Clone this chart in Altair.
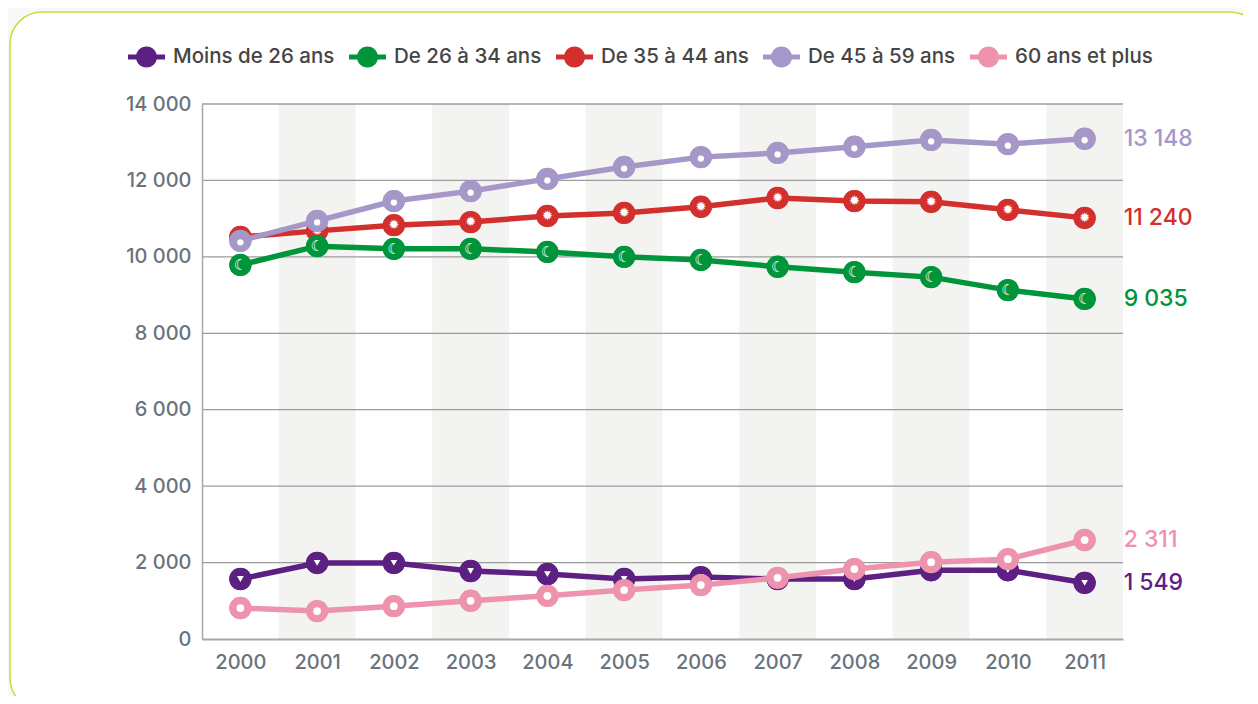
import altair as alt
import pandas as pd

years = [2000, 2001, 2002, 2003, 2004, 2005, 2006, 2007, 2008, 2009, 2010, 2011]
series_names = ["Moins de 26 ans", "De 26 à 34 ans", "De 35 à 44 ans", "De 45 à 59 ans", "60 ans et plus"]
moins26 = [1570, 1990, 1990, 1780, 1700, 1570, 1620, 1570, 1570, 1800, 1800, 1470]
de26_34 = [9790, 10280, 10210, 10210, 10130, 10000, 9920, 9740, 9600, 9470, 9130, 8900]
de35_44 = [10520, 10680, 10830, 10910, 11070, 11150, 11310, 11540, 11460, 11440, 11230, 11020]
de45_59 = [10420, 10940, 11460, 11720, 12040, 12350, 12610, 12720, 12880, 13060, 12950, 13090]
plus60 = [810, 730, 860, 1000, 1130, 1280, 1410, 1600, 1830, 2010, 2090, 2590]
end_labels = ["1 549", "9 035", "11 240", "13 148", "2 311"]
colors = ["#5c1f82", "#00953a", "#d3302d", "#a597c7", "#ee93ad"]
band_years = [2001, 2003, 2005, 2007, 2009, 2011]
y_ticks = [0, 2000, 4000, 6000, 8000, 10000, 12000, 14000]

values = [moins26, de26_34, de35_44, de45_59, plus60]
rows = []
for name, vals in zip(series_names, values):
    for yr, v in zip(years, vals):
        rows.append({"series": name, "year": yr, "value": v})
df = pd.DataFrame(rows)

FONT = "Inter"
W, H = 921, 535

xscale = alt.Scale(domain=[1999.5, 2011.5], nice=False, zero=False)
yscale = alt.Scale(domain=[0, 14000], nice=False)
xaxis = alt.Axis(values=years, format="d", title=None, ticks=False, grid=False, zindex=1,
                 domain=True, domainColor="#a8a8a8", domainWidth=2,
                 labelFont=FONT, labelFontSize=20, labelFontWeight=500, labelColor="#6a737b",
                 labelPadding=13)
yaxis = alt.Axis(values=y_ticks, title=None, ticks=False, grid=False, zindex=1,
                 domain=True, domainColor="#a8a8a8", domainWidth=1.5,
                 labelExpr="replace(format(datum.value, ','), ',', ' ')",
                 labelFont=FONT, labelFontSize=20, labelFontWeight=500, labelColor="#6a737b",
                 labelPadding=11)

X = lambda f="year:Q": alt.X(f, scale=xscale, axis=xaxis)
Y = lambda f="value:Q": alt.Y(f, scale=yscale, axis=yaxis)

frame = alt.Chart(pd.DataFrame({"a": [0]})).mark_rect(
    cornerRadius=32, fill="white", stroke="#c8dc3c", strokeWidth=1.5
).encode(x=alt.value(-192), x2=alt.value(1060), y=alt.value(-92), y2=alt.value(606))

bands = alt.Chart(pd.DataFrame({"year": band_years})).transform_calculate(
    x0="datum.year - 0.5", x1="datum.year + 0.5"
).mark_rect(color="#f3f3f1").encode(
    x=X("x0:Q"), x2="x1:Q", y=alt.value(0), y2=alt.value(H)
)

grid = alt.Chart(pd.DataFrame({"value": y_ticks[1:]})).mark_rule(
    color="#9c9c9c", strokeWidth=1.3
).encode(y=Y())

PATH = ("M-1,-0.14H1V0.14H-1Z "
        "M0.57,0A0.57,0.57,0,1,1,-0.57,0A0.57,0.57,0,1,1,0.57,0Z")

legend = alt.Legend(orient="none", legendX=-74, legendY=-66, direction="horizontal",
                    title=None, symbolType=PATH, symbolSize=1369, symbolStrokeWidth=0,
                    symbolOpacity=1, labelFont=FONT, labelFontSize=20.5, labelFontWeight=500,
                    labelColor="#454545", labelOffset=8, columnPadding=14, labelLimit=400)

legend_layer = alt.Chart(df).mark_point(filled=True, size=480, opacity=1).encode(
    x=X(), y=Y(),
    color=alt.Color("series:N", scale=alt.Scale(domain=series_names, range=colors), legend=legend),
)

layers = [frame, bands, grid, legend_layer]

draw_order = [2, 1, 3, 0, 4]
for i in draw_order:
    name = series_names[i]
    col = colors[i]
    base = alt.Chart(df).transform_filter(alt.datum.series == name)
    layers.append(base.mark_line(strokeWidth=5.5, color=col).encode(x=X(), y=Y()))
    layers.append(base.mark_point(filled=True, size=500, opacity=1, color=col).encode(x=X(), y=Y()))
    if i == 0:
        g = base.mark_point(shape="triangle-down", filled=True, size=45, color="white", opacity=1)
    elif i == 1:
        g = base.mark_text(text="☾", color="white", fontSize=15, font="DejaVu Sans", baseline="middle", align="center")
    elif i == 2:
        g = base.mark_text(text="✹", color="white", fontSize=13, font="DejaVu Sans", baseline="middle", align="center")
    elif i == 3:
        g = base.mark_point(shape="circle", filled=True, size=40, color="white", opacity=1, yOffset=1.5)
    else:
        g = base.mark_point(shape="circle", filled=True, size=60, color="white", opacity=1)
    layers.append(g.encode(x=X(), y=Y()))
    lab_df = pd.DataFrame({"year": [years[-1]], "value": [values[i][-1]], "label": [end_labels[i]]})
    layers.append(alt.Chart(lab_df).mark_text(
        align="left", baseline="middle", dx=39, fontSize=23, fontWeight=500, font=FONT, color=col
    ).encode(x=X(), y=Y(), text="label:N"))

chart = alt.layer(*layers).properties(
    width=W, height=H,
    autosize="none",
    padding={"left": 194, "top": 96, "right": 120, "bottom": 57},
    background="#f8f8f8",
).configure_view(stroke=None)

chart.save("out.html", embed_options={"renderer": "svg", "actions": False})
